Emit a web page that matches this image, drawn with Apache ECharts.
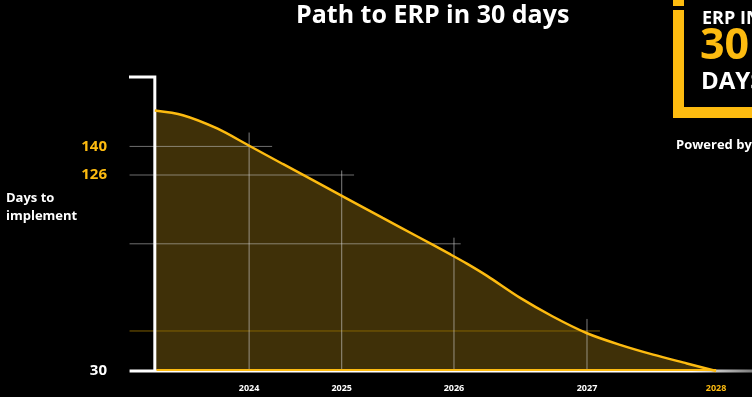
<!DOCTYPE html>
<html>
<head>
<meta charset="utf-8">
<script src="https://cdn.jsdelivr.net/npm/echarts@6/dist/echarts.min.js"></script>
<style>
  html, body { margin: 0; padding: 0; background: #000; }
  #chart { width: 752px; height: 397px; }
</style>
</head>
<body>
<div id="chart"></div>
<script>
// ---- data ----
const years = ['2024', '2025', '2026', '2027', '2028'];
const yearPos = [16.8, 33.3, 53.3, 77.0, 100];          // position along the timeline (0-100)
const yearLineTop = [146.8, 128.2, 95.3, 55.5];          // days where each year marker line ends
const progress = [0, 5.0, 11.1, 16.9, 22.8, 28.9, 34.8, 40.6, 46.7, 52.6, 55.6, 59.2, 65.1, 70.9, 77.0, 82.9, 88.8, 94.8, 100];
const days = [157.6, 155.3, 148.8, 140.2, 131.4, 122.4, 113.6, 105.0, 96.0, 87.2, 82.6, 76.6, 65.8, 56.7, 48.5, 42.8, 38.0, 33.7, 30];
const yTickValues = [30, 126, 140];
const hGridDays = [140, 126, 92.3, 49.6];
const hGridEnd = [20.9, 35.5, 54.5, 79.3];
const xMin = -4.6, xMax = 106.4;
const yMin = 30, yMax = 174;

const YELLOW = '#fdbb10';
const FONT = '"Open Sans", Lato, sans-serif';

const curve = progress.map((p, i) => [p, days[i]]);

const series = [];
// filled area
series.push({
  type: 'line', data: curve, smooth: 0.3, symbol: 'none', z: 2,
  lineStyle: { width: 0 },
  areaStyle: { color: '#3f3008', opacity: 1 },
  silent: true
});
// horizontal guide lines
hGridDays.forEach((d, i) => {
  series.push({
    type: 'line', data: [[xMin + 0.1, d], [hGridEnd[i], d]], symbol: 'none', z: 3, silent: true,
    lineStyle: { width: 1, color: i === 3 ? 'rgba(140,104,0,0.9)' : 'rgba(200,200,200,0.55)' }
  });
});
// vertical year lines
yearLineTop.forEach((t, i) => {
  series.push({
    type: 'line', data: [[yearPos[i], yMin], [yearPos[i], t]], symbol: 'none', z: 3, silent: true,
    lineStyle: { width: 1, color: 'rgba(210,210,210,0.6)' }
  });
});
// bottom axis line with fade
series.push({
  type: 'line', data: [[xMin + 0.1, yMin], [xMax, yMin]], symbol: 'none', z: 4, silent: true, clip: false,
  lineStyle: {
    width: 3,
    color: new echarts.graphic.LinearGradient(0, 0, 1, 0, [
      { offset: 0, color: '#ffffff' }, { offset: 0.9, color: '#ffffff' }, { offset: 1, color: '#777777' }
    ])
  }
});
// y axis line with its top bracket
series.push({
  type: 'line', data: [[xMin, yMax], [0, yMax], [0, yMin]], symbol: 'none', z: 4, silent: true, clip: false,
  lineStyle: { width: 3, color: '#ffffff', join: 'miter' }
});
// yellow baseline along the area bottom
series.push({
  type: 'line', data: [[0.3, yMin + 0.5], [100, yMin + 0.5]], symbol: 'none', z: 5, silent: true,
  lineStyle: { width: 2, color: YELLOW }
});
// curve line
series.push({
  type: 'line', data: curve, smooth: 0.3, symbol: 'none', z: 6, clip: false, silent: true,
  lineStyle: { width: 2.5, color: YELLOW }
});

const chart = echarts.init(document.getElementById('chart'), null, { renderer: 'canvas' });
chart.setOption({
  backgroundColor: '#000',
  animation: false,
  title: {
    text: 'Path to ERP in 30 days',
    left: 291, top: -2,
    textStyle: { color: '#fff', fontSize: 25, fontWeight: 'bold', fontFamily: FONT }
  },
  grid: { left: 129, right: 0, top: 77, bottom: 26, containLabel: false },
  xAxis: {
    type: 'value', min: xMin, max: xMax,
    axisLine: { show: false }, axisTick: { show: false }, splitLine: { show: false },
    axisLabel: {
      customValues: yearPos,
      margin: 13,
      fontSize: 9, fontWeight: 'bold', fontFamily: FONT,
      formatter: v => years[yearPos.indexOf(v)] || '',
      color: v => (String(v) === String(yearPos[yearPos.length - 1]) ? YELLOW : '#ffffff')
    }
  },
  yAxis: {
    type: 'value', min: yMin, max: yMax,
    axisLine: { show: false },
    axisTick: { show: false }, splitLine: { show: false },
    axisLabel: {
      customValues: yTickValues,
      margin: 22,
      fontSize: 15, fontWeight: 'bold', fontFamily: FONT,
      formatter: v => String(v),
      color: v => (String(v) === String(yMin) ? '#ffffff' : YELLOW)
    }
  },
  graphic: [
    { type: 'text', left: 6, top: 189, style: { text: 'Days to\nimplement', fill: '#fff', font: 'bold 13px ' + FONT, lineHeight: 18 } },
    // logo
    { type: 'rect', shape: { x: 673, y: 0, width: 11, height: 6 }, style: { fill: YELLOW } },
    { type: 'rect', shape: { x: 673, y: 10, width: 11, height: 108 }, style: { fill: YELLOW } },
    { type: 'rect', shape: { x: 673, y: 107, width: 79, height: 11 }, style: { fill: YELLOW } },
    { type: 'text', x: 702, y: 19, style: { text: 'ERP IN', fill: '#fff', font: 'bold 18px ' + FONT, verticalAlign: 'middle' } },
    { type: 'text', x: 700, y: 47, style: { text: '30', fill: YELLOW, font: 'bold 43px ' + FONT, verticalAlign: 'middle' } },
    { type: 'text', x: 701, y: 82, style: { text: 'DAYS', fill: '#fff', font: 'bold 24px ' + FONT, verticalAlign: 'middle' } },
    { type: 'text', x: 676, y: 145, style: { text: 'Powered by', fill: '#fff', font: 'bold 13px ' + FONT, verticalAlign: 'middle' } }
  ],
  series: series
});
</script>
</body>
</html>
